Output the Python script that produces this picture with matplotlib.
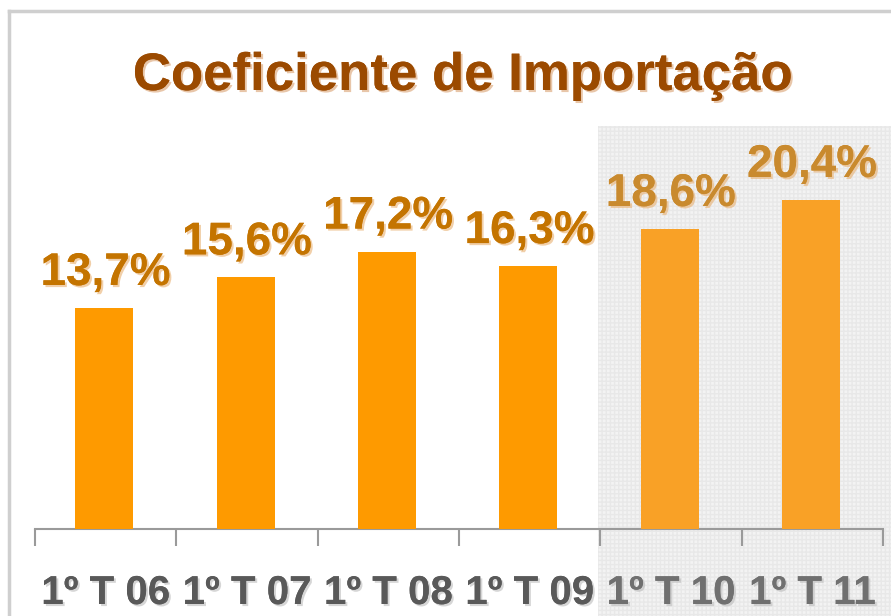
import matplotlib
matplotlib.use("Agg")
import matplotlib.pyplot as plt
from matplotlib.patches import Rectangle
from matplotlib.lines import Line2D
import matplotlib.patheffects as pe

categories = ["1º T 06", "1º T 07", "1º T 08", "1º T 09", "1º T 10", "1º T 11"]
values = [13.7, 15.6, 17.2, 16.3, 18.6, 20.4]
labels = ["13,7%", "15,6%", "17,2%", "16,3%", "18,6%", "20,4%"]
title = "Coeficiente de Importação"
shaded = [False, False, False, False, True, True]

W, H = 891, 616
fig = plt.figure(figsize=(W / 100, H / 100), dpi=100)
fig.patch.set_facecolor("white")

wide = ["Liberation Sans", "DejaVu Sans"]

# shaded projection region (figure coords)
fig.patches.append(Rectangle((598 / W, 0), (W - 598) / W, (H - 126) / H,
                             transform=fig.transFigure, facecolor="#f3f3f3",
                             edgecolor="#e8e8e8", hatch="++++", linewidth=0, zorder=-5))
# frame
fig.add_artist(Line2D([9 / W, 9 / W], [0, (H - 11) / H], color="#cfcfcf", lw=2.5,
                      transform=fig.transFigure, zorder=-4))
fig.add_artist(Line2D([9 / W, 1], [(H - 11) / H, (H - 11) / H], color="#cfcfcf", lw=2.5,
                      transform=fig.transFigure, zorder=-4))

left, right, bottom, top = 35, 883, 529, 120
ax = fig.add_axes([left / W, (H - bottom) / H, (right - left) / W, (bottom - top) / H])
ax.set_zorder(2)
ax.patch.set_alpha(0)
pxu = 221 / 13.7
ax.set_xlim(-0.5, len(categories) - 0.5)
ax.set_ylim(0, (bottom - top) / pxu)

x = list(range(len(categories)))
bar_colors = ["#f9a126" if s else "#fe9a00" for s in shaded]
ax.bar([xi - 0.01 for xi in x], values, width=0.41, color=bar_colors, zorder=3)

for xi, v, lab, s in zip(x, values, labels, shaded):
    col = "#c98a2e" if s else "#c47400"
    shadow = [pe.withSimplePatchShadow(offset=(1.5, -1.5), shadow_rgbFace="#e8b070", alpha=0.6), pe.Normal()]
    ax.annotate(lab, (xi, v), xytext=(0, 23 * 0.72), textcoords="offset points",
                ha="center", va="baseline", fontsize=33, fontweight="bold",
                color=col, family=wide, path_effects=shadow, zorder=4,
                annotation_clip=False)

for s in ["top", "right", "left"]:
    ax.spines[s].set_visible(False)
ax.spines["bottom"].set_color("#9a9a9a")
ax.spines["bottom"].set_linewidth(1.5)
ax.set_yticks([])
ax.set_xticks([i - 0.5 for i in range(len(categories) + 1)], minor=False)
ax.set_xticklabels([])
ax.tick_params(axis="x", length=12, width=1.5, color="#9a9a9a", direction="out")

for xi, c, s in zip(x, categories, shaded):
    col = "#707070" if s else "#595959"
    ax.annotate(c, (xi, 0), xytext=(0, -(604 - 529) * 0.72), textcoords="offset points",
                ha="center", va="baseline", fontsize=29, fontweight="bold",
                color=col, family=wide, annotation_clip=False,
                path_effects=[pe.withSimplePatchShadow(offset=(1.5, -1.5), shadow_rgbFace="#bbbbbb", alpha=0.6), pe.Normal()])

fig.text(462 / W, 1 - 90 / H, title, ha="center", va="baseline", fontsize=38,
         fontweight="bold", color="#9b4a00", family=wide,
         path_effects=[pe.withSimplePatchShadow(offset=(1.5, -1.5), shadow_rgbFace="#d9a070", alpha=0.6), pe.Normal()])

fig.savefig("out.png", dpi=100, facecolor="white")
